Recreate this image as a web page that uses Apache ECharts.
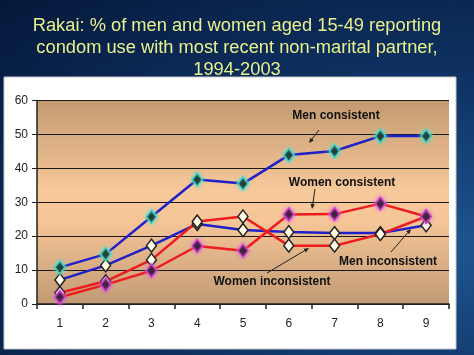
<!DOCTYPE html>
<html><head><meta charset="utf-8">
<script src="https://cdn.jsdelivr.net/npm/echarts@6/dist/echarts.min.js"></script>
<style>
html,body{margin:0;padding:0;width:474px;height:355px;overflow:hidden;
background:radial-gradient(ellipse at 95% 70%, #1f5590 0%, #0f3466 45%, #05183a 100%);}
#c{width:474px;height:355px;}
</style></head><body><div id="c"></div>
<script>
const titleText = 'Rakai: % of men and women aged 15-49 reporting\ncondom use with most recent non-marital partner,\n1994-2003';
const categories = ['1','2','3','4','5','6','7','8','9'];
const menConsistent = [10.8, 14.7, 25.7, 36.7, 35.5, 43.9, 45.1, 49.5, 49.5];
const menInconsistent = [7.1, 11.4, 17.2, 23.6, 21.8, 21.2, 20.9, 20.9, 23.2];
const womenConsistent = [2.0, 5.7, 9.8, 17.1, 15.7, 26.4, 26.5, 29.6, 25.8];
const womenInconsistent = [3.3, 6.7, 13.0, 24.3, 25.8, 17.2, 17.2, 20.6, 25.8];
const yTicks = [0, 10, 20, 30, 40, 50, 60];

const chart = echarts.init(document.getElementById('c'), null, {renderer:'canvas'});
const BLUE = '#2020c8', RED = '#ee1c1c';
function ser(name, data, color, fill, border, glow) {
  return {
    name, type:'line', data, symbol:'diamond', symbolSize:[10,13],
    lineStyle:{color, width:2.5},
    itemStyle:{color:fill, borderColor:border, borderWidth:1.5, shadowColor: glow, shadowBlur: glow ? 4 : 0},
    emphasis:{disabled:true}, animation:false
  };
}
function arrow(x1, y1, x2, y2) {
  const a = Math.atan2(y2 - y1, x2 - x1), L = 5, W = 2.2;
  const bx = x2 - L * Math.cos(a), by = y2 - L * Math.sin(a);
  const px = -Math.sin(a) * W, py = Math.cos(a) * W;
  return [
    {type:'line', z:100, shape:{x1, y1, x2:bx, y2:by}, style:{stroke:'#222', lineWidth:1}},
    {type:'polygon', z:100, shape:{points:[[x2,y2],[bx+px,by+py],[bx-px,by-py]]}, style:{fill:'#222'}}
  ];
}
function label(text, x, y) {
  return {type:'text', z:100, style:{text, x, y, align:'center', verticalAlign:'middle', font:'bold 12px Liberation Sans', fill:'#111'}};
}
chart.setOption({
  backgroundColor:'transparent',
  animation:false,
  title:{
    text:titleText, left:'center', top:10,
    textStyle:{color:'#e8f08e', fontSize:18.3, fontWeight:'normal', fontFamily:'Liberation Sans', lineHeight:22}
  },
  graphic:[
    {type:'rect', z:-10, shape:{x:4, y:77, width:452, height:272}, style:{fill:'#ffffff', stroke:'#c8c8c8', lineWidth:1}},
    label('Men consistent', 336, 116),
    ...arrow(319, 130, 309, 143),
    label('Women consistent', 342, 183),
    ...arrow(315, 189, 312, 209),
    label('Men inconsistent', 388, 262),
    ...arrow(391, 252, 411, 229),
    label('Women inconsistent', 272, 282),
    ...arrow(267, 273, 309, 248)
  ],
  grid:{left:37, right:25, top:100.5, bottom:51, show:true, borderWidth:0,
    backgroundColor:{type:'linear', x:0, y:0, x2:0, y2:1, colorStops:[
      {offset:0, color:'#c39a70'},{offset:0.45, color:'#f8c99b'},{offset:0.6, color:'#f5c597'},{offset:1, color:'#c19a74'}]}},
  xAxis:{type:'category', data:categories, boundaryGap:true,
    axisLine:{lineStyle:{color:'#222', width:1.5}},
    axisTick:{show:true, length:5, lineStyle:{color:'#222', width:1.5}},
    axisLabel:{color:'#222', fontSize:12, fontFamily:'Liberation Sans', margin:14},
    splitLine:{show:false}},
  yAxis:{type:'value', min:0, max:60, interval:10,
    axisLine:{show:true, lineStyle:{color:'#222', width:1.5}},
    axisTick:{show:true, length:5, lineStyle:{color:'#222'}},
    axisLabel:{color:'#222', fontSize:12, fontFamily:'Liberation Sans', margin:9,
      formatter:v => yTicks.includes(v) ? String(v) : ''},
    splitLine:{show:true, lineStyle:{color:'#1a1a1a', width:1}}},
  series:[
    ser('Men inconsistent', menInconsistent, BLUE, '#fffbe6', '#222', null),
    ser('Women inconsistent', womenInconsistent, RED, '#fffbe6', '#222', null),
    ser('Women consistent', womenConsistent, RED, '#111', '#d040c8', '#e060e0'),
    ser('Men consistent', menConsistent, BLUE, '#111', '#40d0c0', '#60e0d0')
  ]
});
</script></body></html>
